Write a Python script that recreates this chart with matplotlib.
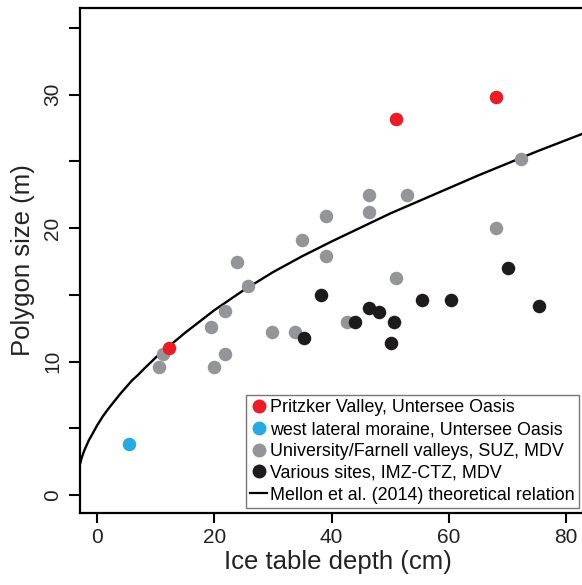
# Polygon size vs. ice table depth
import matplotlib
matplotlib.use("Agg")
import matplotlib.pyplot as plt
from matplotlib.lines import Line2D

# Pritzker Valley, Untersee Oasis
pritzker_depth = [12.2, 51.0, 68.0]
pritzker_size = [11.0, 28.2, 29.8]

# west lateral moraine, Untersee Oasis
moraine_depth = [5.5]
moraine_size = [3.8]

# University/Farnell valleys, SUZ, MDV
suz_depth = [10.5, 11.3, 19.4, 20.0, 21.8, 21.8, 23.9, 25.8, 29.8, 33.8,
             34.9, 39.0, 39.0, 42.6, 46.4, 46.4, 52.9, 51.0, 68.0, 72.3]
suz_size = [9.6, 10.6, 12.6, 9.6, 13.8, 10.6, 17.5, 15.7, 12.2, 12.2,
            19.1, 20.9, 17.9, 13.0, 22.5, 21.2, 22.5, 16.3, 20.0, 25.2]

# Various sites, IMZ-CTZ, MDV
ctz_depth = [35.3, 38.2, 44.0, 46.3, 48.1, 50.6, 50.1, 55.4, 60.4, 70.0, 75.4]
ctz_size = [11.8, 15.0, 13.0, 14.0, 13.7, 13.0, 11.4, 14.6, 14.6, 17.0, 14.2]

# Mellon et al. (2014) curve
curve_depth = [-2.9, -2.6, -2.2, -1.8, -1.4, -1.0, -0.5, 0, 1, 2, 3, 4, 5, 6,
               7, 8, 10, 12, 15, 20, 25, 30, 35, 40, 45, 50, 55, 60, 65, 70,
               75, 80, 85]
curve_size = [2.3, 2.8, 3.3, 3.7, 4.1, 4.4, 4.8, 5.2, 5.9, 6.5, 7.05, 7.6,
              8.1, 8.6, 9.0, 9.45, 10.3, 11.05, 12.15, 13.85, 15.35, 16.7,
              17.9, 19.0, 20.05, 21.1, 22.05, 23.0, 23.95, 24.85, 25.75,
              26.6, 27.45]

labels = ["Pritzker Valley, Untersee Oasis",
          "west lateral moraine, Untersee Oasis",
          "University/Farnell valleys, SUZ, MDV",
          "Various sites, IMZ-CTZ, MDV",
          "Mellon et al. (2014) theoretical relation"]

RED = "#ec1c24"
BLUE = "#27aae1"
GRAY = "#939598"
BLACK = "#1e1b1c"


def plot_polygons():
    plt.rcParams["font.family"] = ["Liberation Sans", "DejaVu Sans"]

    fig = plt.figure(figsize=(5.82, 5.85), dpi=100)
    W, H = 582, 585
    # axes box in pixels: left 80, bottom spine at 513, top at 8
    ax = fig.add_axes([80 / W, 72 / H, 515.5 / W, 505 / H])

    ms = 95
    ax.scatter(suz_depth, suz_size, s=ms, color=GRAY, lw=0, zorder=3)
    ax.scatter(ctz_depth, ctz_size, s=ms, color=BLACK, lw=0, zorder=3)
    ax.scatter(pritzker_depth, pritzker_size, s=ms, color=RED, lw=0, zorder=4)
    ax.scatter(moraine_depth, moraine_size, s=ms, color=BLUE, lw=0, zorder=4)
    ax.plot(curve_depth, curve_size, color="black", lw=1.7, zorder=2,
            solid_capstyle="butt", solid_joinstyle="round")

    ax.set_xlim(-2.9, 85)
    ax.set_ylim(-1.35, 36.5)

    ax.set_xticks([0, 20, 40, 60, 80])
    ax.set_yticks([0, 5, 10, 15, 20, 25, 30, 35])
    ax.set_yticklabels(["0", "", "10", "", "20", "", "30", ""],
                       rotation=90, va="center")
    ax.tick_params(axis="both", direction="out", width=1.5, labelsize=15,
                   color="black", labelcolor="#222222")
    ax.tick_params(axis="x", length=7, pad=4)
    ax.tick_params(axis="y", length=8, pad=5)

    for sp in ax.spines.values():
        sp.set_linewidth(1.6)

    ax.set_xlabel("Ice table depth (cm)", fontsize=18.5, color="#222222",
                  labelpad=2)
    ax.set_ylabel("Polygon size (m)", fontsize=18.5, color="#222222",
                  labelpad=6)

    # legend handles
    handles = [
        Line2D([], [], ls="", marker="o", ms=9, mfc=RED, mec=RED),
        Line2D([], [], ls="", marker="o", ms=9, mfc=BLUE, mec=BLUE),
        Line2D([], [], ls="", marker="o", ms=9, mfc=GRAY, mec=GRAY),
        Line2D([], [], ls="", marker="o", ms=9, mfc=BLACK, mec=BLACK),
        Line2D([], [], color="black", lw=1.6),
    ]
    leg = ax.legend(handles, labels, loc="lower right",
                    bbox_to_anchor=(579 / W, 77 / H),
                    bbox_transform=fig.transFigure,
                    fontsize=12.9, frameon=True, fancybox=False,
                    borderaxespad=0, borderpad=0.25, handlelength=0.95,
                    handletextpad=0.15, labelspacing=0.27)
    leg.get_frame().set_edgecolor("#555555")
    leg.get_frame().set_linewidth(1.0)

    fig.savefig("out.png", dpi=100)


if __name__ == "__main__":
    plot_polygons()
